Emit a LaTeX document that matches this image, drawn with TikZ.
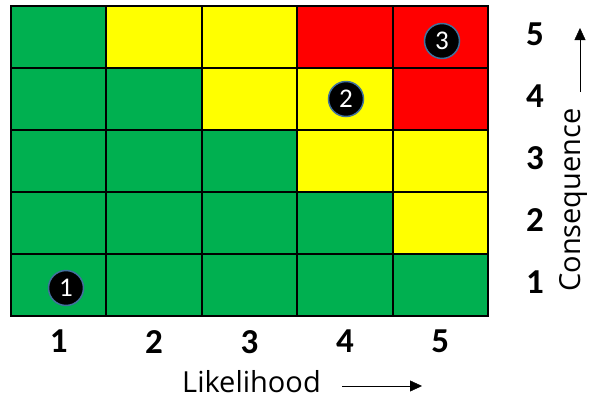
\documentclass[tikz,border=0pt]{standalone}
\usepackage{fontspec}
\setmainfont{Carlito}
\newfontfamily\labelfont{Open Sans}
\usetikzlibrary{arrows.meta, positioning}
\definecolor{riskg}{HTML}{00B050}
\definecolor{risky}{HTML}{FFFF00}
\definecolor{riskr}{HTML}{FF0000}
\definecolor{ringblue}{HTML}{41719C}

\begin{document}
\begin{tikzpicture}[
  x=1pt, y=-1pt,
  cell/.style={draw=black, line width=2pt, minimum width=95.4pt,
               minimum height=62pt, inner sep=0pt, outer sep=0pt},
  axisnum/.style={font=\fontsize{35}{35}\selectfont\bfseries, inner sep=0pt},
  axislabel/.style={font=\labelfont\fontsize{29}{29}\selectfont, inner sep=0pt},
  marker/.style={circle, fill=black, draw=ringblue, line width=1.5pt,
                 minimum size=35pt, inner sep=0pt, text=white,
                 font=\fontsize{27}{27}\selectfont},
  >={Triangle[length=12pt, width=11pt]}
]
  \useasboundingbox (0,0) rectangle (590,400);

  % Risk grid (rows top to bottom)
  \foreach \row/\cols in {5/{g,y,y,r,r}, 4/{g,g,y,y,r}, 3/{g,g,g,y,y},
                          2/{g,g,g,g,y}, 1/{g,g,g,g,g}} {
    \foreach \kind [count=\col] in \cols
      \node[cell, fill=risk\kind] (c\col\row)
        at ({11+(\col-1)*95.4+47.7}, {6+(5-\row)*62+31}) {};
  }

  % Axis numbers
  \foreach \n in {1,...,5} {
    \node[axisnum, below=14pt of c\n1] (lik\n) {\n};
    \node[axisnum, right=38pt of c5\n, yshift=3pt] (con\n) {\n};
  }

  % Markers
  \node[marker] (m1) at (66,288) {1};
  \node[marker] (m2) at (346,99) {2};
  \node[marker] (m3) at (442,41) {3};

  % Axis titles
  \node[axislabel, anchor=base west] (liklabel) at (182,392) {Likelihood};
  \coordinate (likstart) at (342,386);
  \coordinate (likend) at (422,386);
  \draw[->] (likstart) -- (likend);

  \node[axislabel, rotate=90, anchor=base west] (conlabel) at (580,292) {Consequence};
  \coordinate (constart) at (580,92);
  \coordinate (conend) at (580,28);
  \draw[->] (constart) -- (conend);
\end{tikzpicture}
\end{document}
